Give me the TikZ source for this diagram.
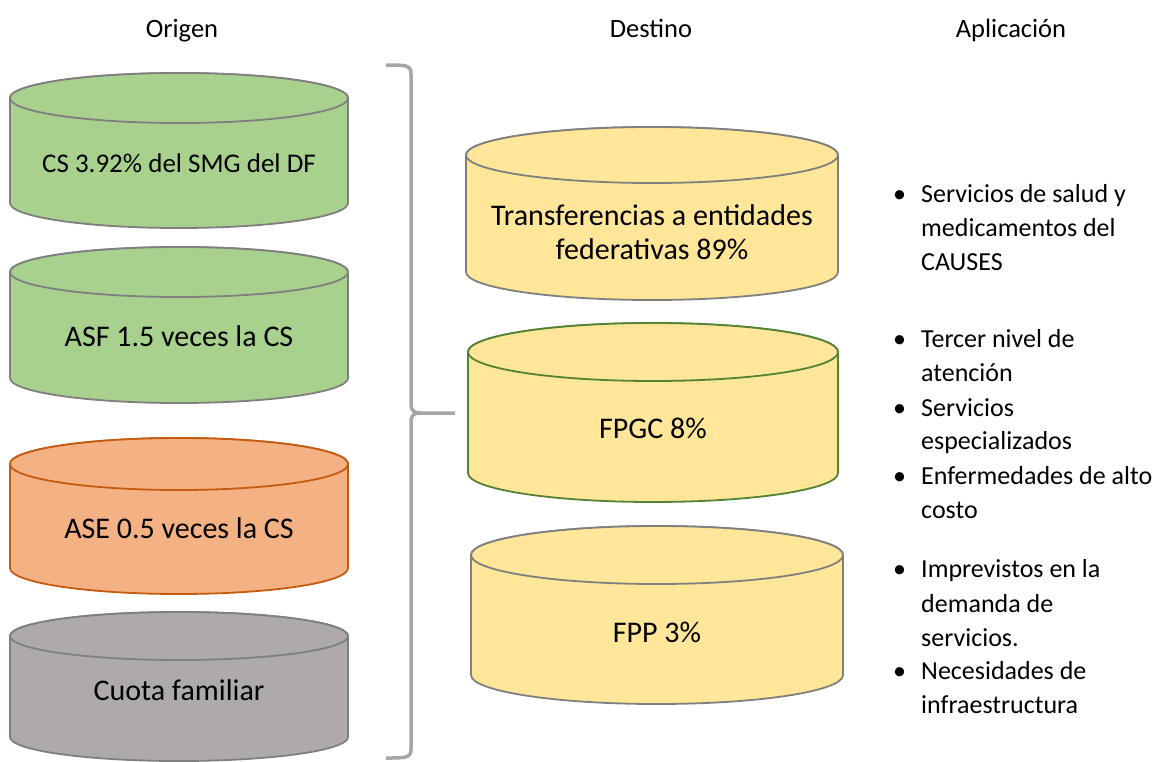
\documentclass[tikz,border=0pt]{standalone}
\usepackage{fontspec}
\setmainfont{Carlito}
\definecolor{gfill}{HTML}{A9D18E}
\definecolor{ofill}{HTML}{F4B183}
\definecolor{odraw}{HTML}{C55A11}
\definecolor{grfill}{HTML}{AEAAAA}
\definecolor{yfill}{HTML}{FFE699}
\definecolor{ydraw}{HTML}{548235}
\definecolor{edge}{HTML}{7F7F7F}
\definecolor{bracec}{HTML}{A6A6A6}
\newcommand{\cylshape}[7]{%
  \filldraw[fill=#6,draw=#7,line width=1.8pt,line join=round]
    (#1-#4,#2) -- (#1-#4,#3)
    arc[start angle=180,end angle=360,x radius=#4pt,y radius=#5pt]
    -- (#1+#4,#2)
    arc[start angle=0,end angle=180,x radius=#4pt,y radius=#5pt] -- cycle;
  \filldraw[fill=#6,draw=#7,line width=1.8pt] (#1,#2) ellipse[x radius=#4pt,y radius=#5pt];
}
\tikzset{
  cyltext/.style={font=\fontsize{30}{34}\selectfont,inner sep=0pt,text=black},
  smalltext/.style={font=\fontsize{27}{34}\selectfont},
  head/.style={font=\fontsize{26.5}{30}\selectfont,inner sep=0pt,anchor=base},
  item/.style={font=\fontsize{26}{34}\selectfont,anchor=base west,inner sep=0pt},
  bul/.style={font=\fontsize{26}{34}\selectfont,anchor=base west,inner sep=0pt},
  bracestyle/.style={draw=bracec,line width=3.5pt,line cap=butt,line join=round}
}
\begin{document}
\begin{tikzpicture}[x=1pt,y=-1pt]
\useasboundingbox (0,0) rectangle (1169,761);
% headers
\node[head] (hO) at (182,37) {Origen};
\node[head] (hD) at (651,37) {Destino};
\node[head] (hA) at (1011,37) {Aplicación};
% origin cylinders
\cylshape{179}{98}{203}{169}{25}{gfill}{edge}
\node[cyltext,smalltext] (cs) at (179,163) {CS 3.92\% del SMG del DF};
\cylshape{179}{272}{378}{169}{25}{gfill}{edge}
\node[cyltext] (asf) at (179,336) {ASF 1.5 veces la CS};
\cylshape{179}{464}{568}{169}{26}{ofill}{odraw}
\node[cyltext] (ase) at (179,528) {ASE 0.5 veces la CS};
\cylshape{179}{636}{737}{169}{24}{grfill}{edge}
\node[cyltext] (cf) at (179,690) {Cuota familiar};
% brace
\draw[bracestyle] (386,65) .. controls (406,65) and (411,65) .. (411,74) -- (411,404)
  .. controls (411,410) and (413,413) .. (421,413) -- (455,413);
\draw[bracestyle] (386,758) .. controls (406,758) and (411,758) .. (411,749) -- (411,422)
  .. controls (411,416) and (413,413) .. (421,413);
% destination cylinders
\cylshape{652}{155}{272}{186}{28}{yfill}{edge}
\node[cyltext,align=center] (tef) at (652,232) {Transferencias a entidades\\federativas 89\%};
\cylshape{653}{352}{473}{185}{29}{yfill}{ydraw}
\node[cyltext] (fpgc) at (653,428) {FPGC 8\%};
\cylshape{657}{555}{675}{186}{29}{yfill}{edge}
\node[cyltext] (fpp) at (657,632) {FPP 3\%};
% application bullets
\node[bul] (b1) at (893,202) {•};
\node[item] (l1) at (921,202) {Servicios de salud y};
\node[item] (l2) at (921,236) {medicamentos del};
\node[item] (l3) at (921,270) {CAUSES};
\node[bul] (b2) at (893,347) {•};
\node[item] (l4) at (921,347) {Tercer nivel de};
\node[item] (l5) at (921,381) {atención};
\node[bul] (b3) at (893,416) {•};
\node[item] (l6) at (921,416) {Servicios};
\node[item] (l7) at (921,449) {especializados};
\node[bul] (b4) at (893,484) {•};
\node[item] (l8) at (921,484) {Enfermedades de alto};
\node[item] (l9) at (921,518) {costo};
\node[bul] (b5) at (893,577) {•};
\node[item] (l10) at (921,577) {Imprevistos en la};
\node[item] (l11) at (921,612) {demanda de};
\node[item] (l12) at (921,646) {servicios.};
\node[bul] (b6) at (893,679) {•};
\node[item] (l13) at (921,679) {Necesidades de};
\node[item] (l14) at (921,713) {infraestructura};
\end{tikzpicture}
\end{document}
